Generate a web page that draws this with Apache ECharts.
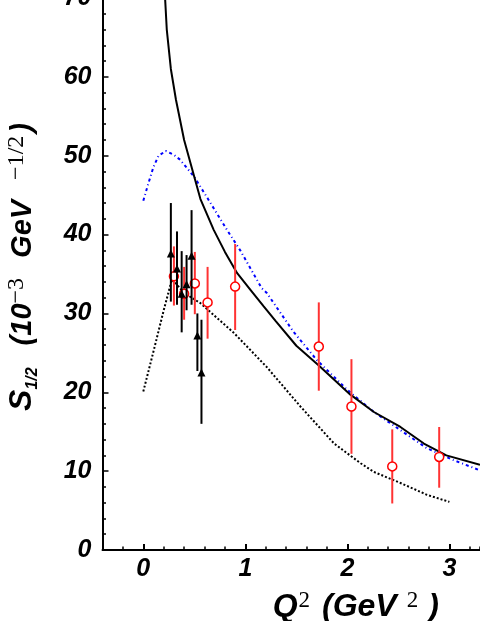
<!DOCTYPE html>
<html>
<head>
<meta charset="utf-8">
<script src="https://cdn.jsdelivr.net/npm/echarts@6/dist/echarts.min.js"></script>
<style>
  html, body { margin: 0; padding: 0; background: #fff; }
  #chart { width: 480px; height: 621px; }
</style>
</head>
<body>
<div id="chart"></div>
<script>
// tick labels
const xTicks = [0, 1, 2, 3];
const yTicks = [0, 10, 20, 30, 40, 50, 60, 70];

// solid black model curve [Q2, S1/2]
const solidCurve = [
  [0.19, 76], [0.205, 72], [0.23, 66], [0.27, 61], [0.32, 57.1], [0.40, 52.0], [0.50, 47.3],
  [0.56, 44.5], [0.69, 40.6], [0.80, 37.8], [0.92, 35.1], [1.05, 33.0], [1.18, 30.9],
  [1.30, 29.0], [1.50, 25.9], [1.72, 23.4], [2.03, 19.7], [2.26, 17.5], [2.52, 15.6],
  [2.75, 13.5], [2.97, 12.0], [3.30, 10.8]
];

// blue dash-dotted curve
const blueCurve = [
  [0.00, 44.3], [0.05, 46.5], [0.10, 48.6], [0.15, 50.0], [0.22, 50.6], [0.30, 50.1],
  [0.36, 49.5], [0.50, 47.3], [0.63, 44.6], [0.82, 40.6], [0.95, 38.0], [1.16, 33.2],
  [1.21, 32.6], [1.47, 27.7], [1.70, 24.1], [2.00, 20.3], [2.26, 17.5], [2.52, 15.2],
  [2.78, 12.9], [3.04, 11.4], [3.30, 10.1]
];

// black dotted curve
const dottedCurve = [
  [0.00, 20.1], [0.10, 25.2], [0.20, 30.4], [0.28, 34.3], [0.32, 33.8], [0.40, 32.6],
  [0.56, 31.3], [0.89, 27.5], [1.21, 23.2], [1.54, 18.2], [1.87, 13.5], [2.13, 11.0],
  [2.26, 9.9], [2.52, 8.5], [2.78, 7.0], [3.00, 6.1]
];

// black triangles with error bars
const triX = [0.27, 0.33, 0.376, 0.424, 0.473, 0.53, 0.57];
const triY = [37.6, 35.7, 32.5, 33.7, 37.3, 27.2, 22.5];
const triLow = [31.5, 31.1, 27.6, 30.4, 31.1, 22.7, 16.0];
const triHigh = [44.0, 40.4, 37.9, 37.4, 43.1, 30.0, 29.2];

// red open circles with error bars
const circX = [0.30, 0.40, 0.505, 0.63, 0.90, 1.72, 2.04, 2.44, 2.90];
const circY = [34.7, 32.5, 33.8, 31.4, 33.4, 25.8, 18.2, 10.6, 11.8];
const circLow = [31.0, 29.2, 29.9, 26.8, 27.9, 20.2, 12.2, 5.9, 7.9];
const circHigh = [38.5, 35.9, 37.8, 35.9, 38.8, 31.4, 24.2, 15.3, 15.6];

const chart = echarts.init(document.getElementById('chart'));

const mainFont = {
  fontFamily: 'Liberation Sans',
  fontWeight: 'bold',
  fontStyle: 'italic',
  color: '#000'
};
const supFont = { fontFamily: 'Liberation Serif', color: '#000' };

function errorBars(xs, lows, highs, color, z) {
  return {
    type: 'custom',
    z: z,
    encode: { x: 0, y: [1, 2] },
    data: xs.map((x, i) => [x, lows[i], highs[i]]),
    renderItem: (params, api) => {
      const lo = api.coord([api.value(0), api.value(1)]);
      const hi = api.coord([api.value(0), api.value(2)]);
      return {
        type: 'line',
        shape: { x1: lo[0], y1: lo[1], x2: hi[0], y2: hi[1] },
        style: { stroke: color, lineWidth: 2 }
      };
    }
  };
}

const option = {
  animation: false,
  backgroundColor: '#fff',
  grid: {
    left: 102.5, right: 0, top: -2, bottom: 71,
    containLabel: false,
    outerBoundsMode: 'none'
  },
  xAxis: [
    {
      type: 'value',
      min: -0.4,
      max: 3.3,
      interval: 0.2,
      axisLine: { onZero: false, lineStyle: { color: '#000', width: 2 } },
      axisTick: { inside: true, length: 3.5, lineStyle: { color: '#000', width: 1.5 } },
      axisLabel: {
        ...mainFont,
        fontSize: 25,
        margin: 7,
        customValues: xTicks,
        formatter: v => (Math.abs(v - Math.round(v)) < 1e-6 ? String(Math.round(v)) : '')
      },
      splitLine: { show: false },
      name: '{q|Q}{sup1|2}{t|(GeV}{sup2|2}{t|)}',
      nameLocation: 'middle',
      nameGap: 39,
      nameTextStyle: {
        padding: [0, 0, 0, 129],
        rich: {
          q: { ...mainFont, fontSize: 32, lineHeight: 36 },
          t: { ...mainFont, fontSize: 32, lineHeight: 36 },
          sup1: { ...supFont, fontSize: 23, verticalAlign: 'top', lineHeight: 22, padding: [0, 12, 0, 1] },
          sup2: { ...supFont, fontSize: 23, verticalAlign: 'top', lineHeight: 22, padding: [0, 10, 0, 10] }
        }
      }
    },
    {
      type: 'value',
      min: -0.4,
      max: 3.3,
      position: 'bottom',
      axisLine: { show: false, onZero: false },
      axisTick: { inside: true, length: 6, customValues: xTicks, lineStyle: { color: '#000', width: 2 } },
      axisLabel: { show: false },
      splitLine: { show: false }
    }
  ],
  yAxis: {
    type: 'value',
    min: 0,
    max: 70,
    interval: 10,
    axisLine: { show: true, onZero: false, lineStyle: { color: '#000', width: 2 } },
    axisTick: { show: true, inside: true, length: 6, lineStyle: { color: '#000', width: 1.5 } },
    minorTick: { show: true, splitNumber: 5, length: 3.5, lineStyle: { color: '#000', width: 1.5 } },
    axisLabel: {
      ...mainFont,
      fontSize: 25,
      margin: 11,
      customValues: yTicks
    },
    splitLine: { show: false },
    name: '{s|S}{sub|1/2}{t|(10}{sup|−3}{t|GeV}{supb|−1/2}{t|)}',
    nameLocation: 'middle',
    nameRotate: 90,
    nameGap: 62,
    nameTextStyle: {
      padding: [0, 0, 0, 14],
      rich: {
        s: { ...mainFont, fontSize: 32, lineHeight: 36 },
        t: { ...mainFont, fontSize: 29, lineHeight: 36 },
        sub: { ...mainFont, fontSize: 16, verticalAlign: 'bottom', lineHeight: 18, padding: [0, 22, 0, 0] },
        sup: { ...supFont, fontSize: 24, verticalAlign: 'top', lineHeight: 18, padding: [0, 20, 0, 0] },
        supb: { ...supFont, fontSize: 24, verticalAlign: 'top', lineHeight: 18, padding: [0, 3, 0, 20] }
      }
    }
  },
  series: [
    {
      type: 'line',
      data: blueCurve,
      showSymbol: false,
      symbol: 'none',
      lineStyle: { color: '#0000ff', width: 2, type: [3, 3, 1, 3] },
      z: 2
    },
    {
      type: 'line',
      data: dottedCurve,
      showSymbol: false,
      symbol: 'none',
      lineStyle: { color: '#000', width: 2, type: [2, 2] },
      z: 2
    },
    {
      type: 'line',
      data: solidCurve,
      showSymbol: false,
      symbol: 'none',
      lineStyle: { color: '#000', width: 2 },
      z: 3
    },
    errorBars(circX, circLow, circHigh, '#ff3333', 4),
    {
      type: 'scatter',
      data: circX.map((x, i) => [x, circY[i]]),
      symbol: 'circle',
      symbolSize: 9,
      itemStyle: { color: '#fff', borderColor: '#ff0000', borderWidth: 1.5, opacity: 1 },
      z: 5
    },
    errorBars(triX, triLow, triHigh, '#000', 6),
    {
      type: 'scatter',
      data: triX.map((x, i) => [x, triY[i]]),
      symbol: 'triangle',
      symbolSize: 8,
      itemStyle: { color: '#000', opacity: 1 },
      z: 7
    }
  ]
};

chart.setOption(option);
</script>
</body>
</html>
